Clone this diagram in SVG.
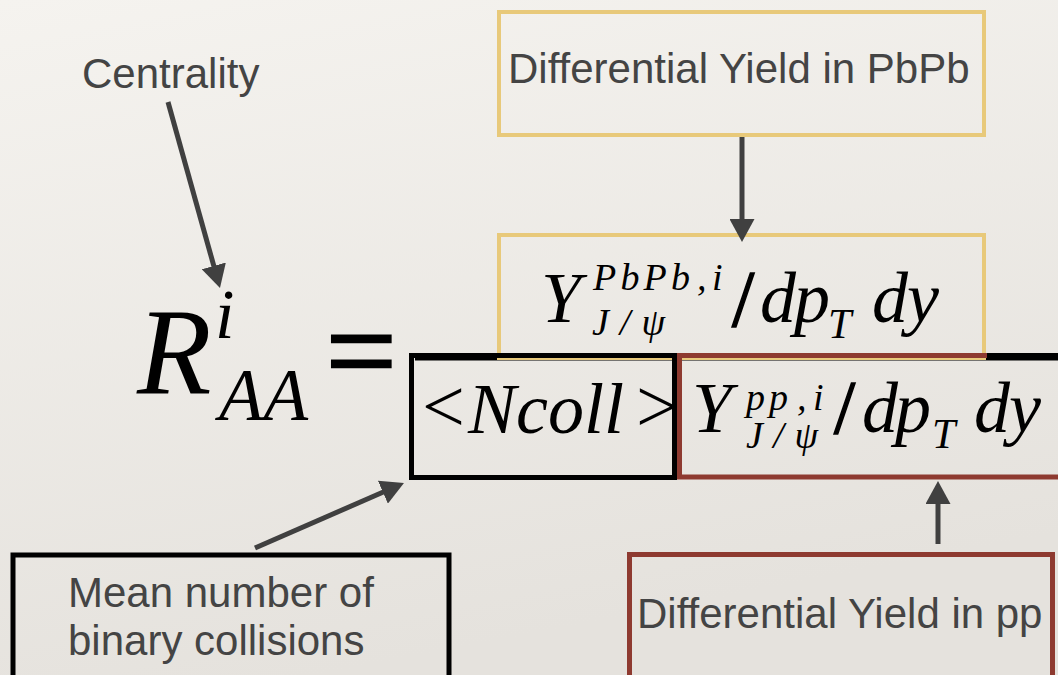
<svg xmlns="http://www.w3.org/2000/svg" width="1058" height="675" viewBox="0 0 1058 675">
<defs>
<linearGradient id="bg" x1="0" y1="0" x2="0.3" y2="1">
<stop offset="0" stop-color="#F5F3EF"/>
<stop offset="1" stop-color="#E5E2DD"/>
</linearGradient>
<marker id="ah" viewBox="0 0 23 25" markerUnits="userSpaceOnUse" markerWidth="23" markerHeight="25" refX="13" refY="12.5" orient="auto">
<path d="M0,0 L23,12.5 L0,25 z" fill="#404040"/>
</marker>
</defs>
<style>
.lbl{font-family:"Liberation Sans",Arial,sans-serif;font-size:42px;fill:#444444}
.m{font-family:"Liberation Serif","Times New Roman",serif;font-style:italic;fill:#000}
.u{font-family:"Liberation Serif","Times New Roman",serif;fill:#000}
.sl{font-family:"Liberation Serif","Times New Roman",serif;fill:#000;stroke:#000;stroke-width:1.5}
.yb{fill:none;stroke:#E8C97A;stroke-width:4}
.rb{fill:none;stroke:#8E3A30;stroke-width:5}
.kb{fill:none;stroke:#000;stroke-width:5}
.conn{stroke:#404040;stroke-width:5;fill:none;marker-end:url(#ah)}
</style>
<rect x="0" y="0" width="1058" height="675" fill="url(#bg)"/>

<g id="centrality">
<text class="lbl" x="82" y="88">Centrality</text>
</g>

<g id="pbpb-label">
<rect class="yb" x="499" y="12" width="485" height="123"/>
<text class="lbl" x="508" y="83">Differential Yield in PbPb</text>
</g>

<g id="formula-lhs">
<text class="m" x="137" y="393" font-size="122">R</text>
<text class="m" x="215" y="338" font-size="70">i</text>
<text class="m" x="219" y="420" font-size="73">AA</text>
<text class="u" x="326" y="393" font-size="125" stroke="#000" stroke-width="2.5">=</text>
</g>

<line x1="415" y1="358" x2="1058" y2="358" stroke="#000" stroke-width="5"/>

<g id="pbpb-yield">
<rect class="yb" x="499" y="235" width="485" height="123"/>
<text class="m" x="541" y="322" font-size="72">Y</text>
<text class="m" x="593" y="290" font-size="38" textLength="97" lengthAdjust="spacing">PbPb</text>
<text class="m" x="697" y="290" font-size="38">,</text>
<text class="m" x="712" y="290" font-size="38">i</text>
<text class="m" x="592" y="335" font-size="38" textLength="73" lengthAdjust="spacing">J/ψ</text>
<text class="sl" x="732" y="326" font-size="80">/</text>
<text class="m" x="760" y="322" font-size="72">d</text>
<text class="m" x="794" y="322" font-size="72">p</text>
<text class="m" x="828" y="338" font-size="42">T</text>
<text class="m" x="872" y="322" font-size="72">d</text>
<text class="m" x="907" y="322" font-size="72">y</text>
</g>

<g id="pp-yield">
<rect class="rb" x="679.5" y="355.5" width="400" height="121.5"/>
<line x1="987" y1="355.5" x2="1058" y2="355.5" stroke="#000" stroke-width="5"/>
<text class="m" x="692" y="432" font-size="72">Y</text>
<text class="m" x="746" y="410" font-size="38" textLength="42" lengthAdjust="spacing">pp</text>
<text class="m" x="797" y="410" font-size="38">,</text>
<text class="m" x="813" y="410" font-size="38">i</text>
<text class="m" x="746" y="448" font-size="38" textLength="72" lengthAdjust="spacing">J/ψ</text>
<text class="sl" x="834" y="433" font-size="76">/</text>
<text class="m" x="862" y="432" font-size="72">d</text>
<text class="m" x="895" y="432" font-size="72">p</text>
<text class="m" x="932" y="448" font-size="42">T</text>
<text class="m" x="974" y="432" font-size="72">d</text>
<text class="m" x="1009" y="432" font-size="72">y</text>
</g>

<g id="ncoll">
<rect class="kb" x="411.5" y="355.5" width="263" height="122"/>
<text class="u" x="422" y="432" font-size="76">&lt;</text>
<text class="m" x="468" y="433" font-size="72">Ncoll</text>
<text class="u" x="636" y="432" font-size="76">&gt;</text>
</g>

<g id="mean-label">
<rect class="kb" x="13" y="555" width="436" height="140"/>
<text class="lbl" x="68" y="607">Mean number of</text>
<text class="lbl" x="68" y="655">binary collisions</text>
</g>

<g id="pp-label">
<rect class="rb" x="629.5" y="554.5" width="423" height="140"/>
<text class="lbl" x="637" y="628">Differential Yield in pp</text>
</g>

<g id="connectors">
<line class="conn" x1="168" y1="102" x2="217.3" y2="278.4"/>
<line class="conn" x1="742" y1="137" x2="742" y2="232"/>
<line class="conn" x1="255" y1="548" x2="394.8" y2="487"/>
<line class="conn" x1="938" y1="544" x2="938" y2="491"/>
</g>
</svg>
